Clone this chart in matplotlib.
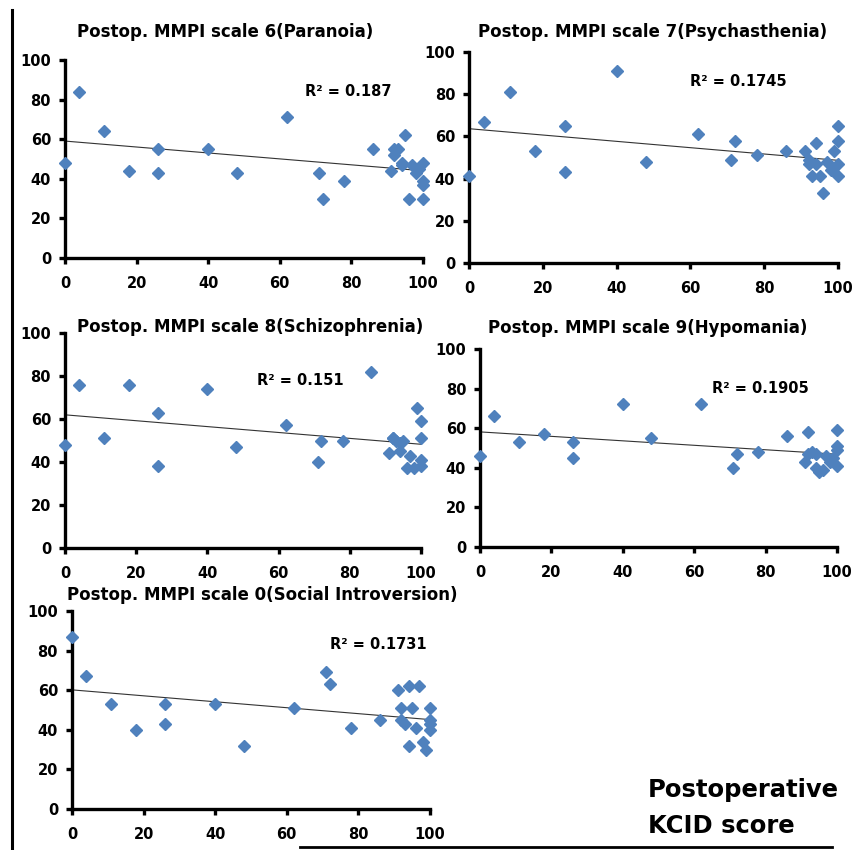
import numpy as np
import matplotlib
matplotlib.use('Agg')
import matplotlib.pyplot as plt

plt.rcParams['font.family'] = ['DejaVu Sans']
plt.rcParams['font.weight'] = 'bold'

# Postoperative KCID score (shared x values)
kcid = [0, 4, 11, 18, 26, 26, 40, 48, 62, 71, 72, 78, 86, 91, 92, 92, 93, 94, 94, 95, 96, 97, 98, 99, 100, 100, 100, 100]

# MMPI scale values
scale6 = [48, 84, 64, 44, 55, 43, 55, 43, 71, 43, 30, 39, 55, 44, 55, 52, 55, 48, 47, 62, 30, 47, 43, 45, 48, 39, 37, 30]
scale7 = [41, 67, 81, 53, 65, 43, 91, 48, 61, 49, 58, 51, 53, 53, 49, 47, 41, 57, 47, 41, 33, 48, 44, 53, 65, 58, 47, 41]
scale8 = [48, 76, 51, 76, 63, 38, 74, 47, 57, 40, 50, 50, 82, 44, 51, 51, 50, 45, 49, 50, 37, 43, 37, 65, 59, 51, 41, 38]
scale9 = [46, 66, 53, 57, 53, 45, 72, 55, 72, 40, 47, 48, 56, 43, 58, 47, 48, 40, 47, 38, 39, 46, 43, 45, 59, 51, 49, 41]
scale0 = [87, 67, 53, 40, 53, 43, 53, 32, 51, 69, 63, 41, 45, 60, 51, 45, 43, 62, 32, 51, 41, 62, 34, 30, 51, 45, 43, 40]

titles = ['Postop. MMPI scale 6(Paranoia)', 'Postop. MMPI scale 7(Psychasthenia)',
          'Postop. MMPI scale 8(Schizophrenia)', 'Postop. MMPI scale 9(Hypomania)',
          'Postop. MMPI scale 0(Social Introversion)']
r2_labels = ['R² = 0.187', 'R² = 0.1745', 'R² = 0.151', 'R² = 0.1905', 'R² = 0.1731']
series = [scale6, scale7, scale8, scale9, scale0]

# layout (figure fractions)
boxes = [[0.0761, 0.6965, 0.4192, 0.2329],
         [0.5492, 0.6906, 0.4321, 0.2482],
         [0.0761, 0.3553, 0.4169, 0.2529],
         [0.5621, 0.3565, 0.4180, 0.2329],
         [0.0843, 0.0482, 0.4192, 0.2330]]
title_pos = [(225, 32), (653, 32), (250, 327), (648, 328), (262, 595)]
r2_pos = [(67, 84), (60, 86), (54, 78), (65, 80), (72, 83)]

W, H = 854, 850
fig = plt.figure(figsize=(8.54, 8.5), dpi=100)

x = np.array(kcid, dtype=float)
for i in range(5):
	ax = fig.add_axes(boxes[i])
	y = np.array(series[i], dtype=float)
	ax.plot(x, y, 'D', color='#4F81BD', ms=6, mec='#4F81BD', clip_on=False, zorder=3)
	p = np.polyfit(x, y, 1)
	xl = np.array([0, 100])
	ax.plot(xl, np.polyval(p, xl), '-', color='#333333', lw=0.8, zorder=2)
	ax.set_xlim(0, 100)
	ax.set_ylim(0, 100)
	ax.set_xticks(range(0, 101, 20))
	ax.set_yticks(range(0, 101, 20))
	for s in ['top', 'right']:
		ax.spines[s].set_visible(False)
	for s in ['left', 'bottom']:
		ax.spines[s].set_linewidth(2.4)
	ax.tick_params(direction='out', length=4, width=2.4, labelsize=10.5, pad=6)
	ax.tick_params(axis='x', pad=9)
	for lab in ax.get_xticklabels() + ax.get_yticklabels():
		lab.set_fontweight('bold')
	ax.text(r2_pos[i][0], r2_pos[i][1], r2_labels[i], fontsize=10.5, fontweight='bold',
	        ha='left', va='center')
	fig.text(title_pos[i][0] / W, 1 - title_pos[i][1] / H, titles[i], fontsize=12,
	         fontweight='bold', ha='center', va='center')

# frame lines
fig.add_artist(plt.Line2D([12 / W, 12 / W], [0, 1 - 10 / H], color='black', lw=2.2))
fig.add_artist(plt.Line2D([300 / W, 832 / W], [3 / H, 3 / H], color='black', lw=2.0))

fig.text(648 / W, 1 - 790 / H, 'Postoperative', fontsize=17.5, fontweight='bold', ha='left', va='center')
fig.text(648 / W, 1 - 826 / H, 'KCID score', fontsize=17.5, fontweight='bold', ha='left', va='center')

fig.savefig('out.png', dpi=100)
